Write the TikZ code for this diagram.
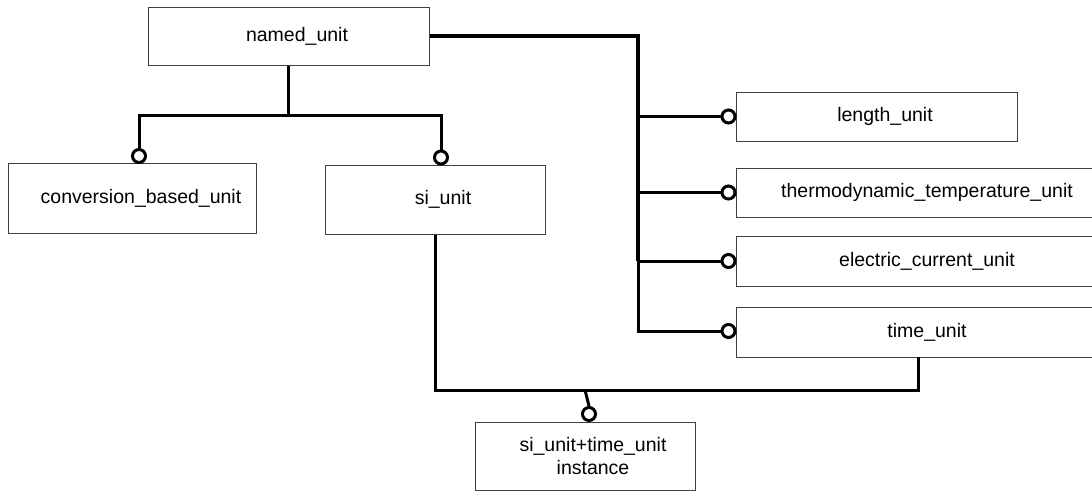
\documentclass[tikz,border=0pt]{standalone}
\usepackage{fontspec}
\setmainfont{Liberation Sans}
\begin{document}
\begin{tikzpicture}[x=1pt,y=-1pt,
  every node/.style={font=\fontsize{19.5}{23}\selectfont},
  entity/.style={draw=black!75, line width=1pt, fill=white, rectangle, inner sep=0pt},
  lollipop/.style={draw=black, line width=3pt, fill=white, circle, inner sep=0pt, minimum size=13pt},
  conn/.style={draw=black, line width=3pt, line join=miter},
  trunk/.style={draw=black, line width=4pt, line join=miter}]
\useasboundingbox (0,0) rectangle (1092,493);
\clip (0,0) rectangle (1092,493);

% entity boxes (label text sits slightly right of centre)
\node[entity, minimum width=281pt, minimum height=58pt,
      label={[xshift=8.5pt]center:named\_unit}] (named) at (288.5,36) {};
\node[entity, minimum width=248pt, minimum height=70pt,
      label={[xshift=9pt]center:conversion\_based\_unit}] (conv) at (132,198) {};
\node[entity, minimum width=220pt, minimum height=69pt,
      label={[xshift=8pt]center:si\_unit}] (si) at (435,199.5) {};
\node[entity, minimum width=281pt, minimum height=49pt,
      label={[xshift=8.5pt]center:length\_unit}] (length) at (876.5,116.5) {};
\node[entity, minimum width=382pt, minimum height=49pt,
      label={center:thermodynamic\_temperature\_unit}] (thermo) at (927,192.5) {};
\node[entity, minimum width=382pt, minimum height=50pt,
      label={center:electric\_current\_unit}] (current) at (927,261) {};
\node[entity, minimum width=382pt, minimum height=50pt,
      label={center:time\_unit}] (time) at (927,332) {};
\node[entity, minimum width=220pt, minimum height=68pt,
      label={[xshift=8pt,align=center]center:si\_unit+time\_unit\\instance}] (inst) at (585,456) {};

% subtype circles
\node[lollipop] (oconv) at (139,156) {};
\node[lollipop] (osi) at (441,157.5) {};
\node[lollipop] (olen) at (728.5,116.5) {};
\node[lollipop] (otherm) at (728.5,192.5) {};
\node[lollipop] (ocur) at (728.5,261) {};
\node[lollipop] (otime) at (728.5,331) {};
\node[lollipop] (oinst) at (589,414) {};

% helper coordinates for the buses
\coordinate (busA) at (0,115);
\coordinate (spine) at (638,0);
\coordinate (busB) at (0,390);
\coordinate (tdrop) at (918,357);
\coordinate (join) at (585,390);

% named_unit -> conversion_based_unit / si_unit
\draw[conn] (named.south) -- (named.south |- busA);
\draw[conn] (oconv.north) -- (oconv.north |- busA) -- (osi.north |- busA) -- (osi.north);

% named_unit -> right-hand subtypes
\draw[trunk] (named.east) -- (named.east -| spine) -- (spine |- ocur.west);
\draw[conn] (spine |- ocur.west) -- (spine |- otime.west) -- (otime.west);
\draw[conn] (spine |- olen.west) -- (olen.west);
\draw[conn] (spine |- otherm.west) -- (otherm.west);
\draw[conn] (spine |- ocur.west) -- (ocur.west);

% si_unit + time_unit -> instance
\draw[conn] (si.south) -- (si.south |- busB) -- (busB -| tdrop) -- (tdrop);
\draw[conn] (join) -- (oinst.north);
\end{tikzpicture}
\end{document}
